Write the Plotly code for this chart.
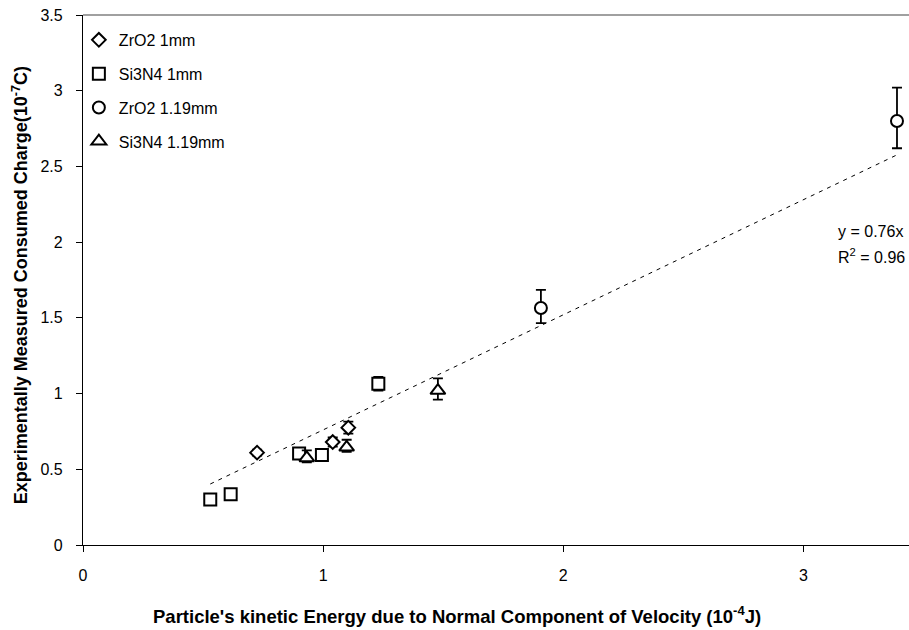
import plotly.graph_objects as go

# ---- data ----
zro2_1_x = [0.725, 1.04, 1.105]
zro2_1_y = [0.61, 0.68, 0.775]
zro2_1_err = [0.02, 0.03, 0.04]

si3n4_1_x = [0.53, 0.615, 0.90, 0.995, 1.23]
si3n4_1_y = [0.30, 0.335, 0.605, 0.595, 1.065]
si3n4_1_err = [0.015, 0.015, 0.03, 0.02, 0.045]

zro2_119_x = [1.907, 3.39]
zro2_119_y = [1.565, 2.80]
zro2_119_err_up = [0.12, 0.22]
zro2_119_err_dn = [0.10, 0.18]

si3n4_119_x = [0.932, 1.098, 1.478]
si3n4_119_y = [0.575, 0.645, 1.02]
si3n4_119_err_up = [0.05, 0.05, 0.08]
si3n4_119_err_dn = [0.03, 0.03, 0.06]

trend_slope = 0.76
r_squared = 0.96

x_ticks = [0, 1, 2, 3]
y_ticks = [0, 0.5, 1, 1.5, 2, 2.5, 3, 3.5]

x_title = "Particle's kinetic Energy due to Normal Component of Velocity (10<sup>-4</sup>J)"
y_title = "Experimentally Measured Consumed Charge(10<sup>-7</sup>C)"

FONT = "Liberation Sans, Arial, sans-serif"

fig = go.Figure()

def add_series(name, xs, ys, symbol, size, up, dn, group):
    fig.add_trace(go.Scatter(
        x=xs, y=ys, mode="markers", name=name, legendgroup=group,
        marker=dict(symbol=symbol, size=size, color="white",
                    line=dict(color="black", width=2)),
        error_y=dict(type="data", array=up, arrayminus=dn, visible=True,
                     color="black", thickness=1.8, width=5),
    ))

# trendline (drawn first, below markers)
all_x = zro2_1_x + si3n4_1_x + zro2_119_x + si3n4_119_x
tx = [min(all_x), max(all_x)]
fig.add_trace(go.Scatter(
    x=tx, y=[trend_slope * v for v in tx], mode="lines", showlegend=False,
    line=dict(color="black", width=1, dash="4px,5px"), hoverinfo="skip"))

add_series("ZrO2 1mm", zro2_1_x, zro2_1_y, "diamond", 10.5, zro2_1_err, zro2_1_err, "a")
add_series("Si3N4 1mm", si3n4_1_x, si3n4_1_y, "square", 12, si3n4_1_err, si3n4_1_err, "b")
add_series("ZrO2 1.19mm", zro2_119_x, zro2_119_y, "circle", 12, zro2_119_err_up, zro2_119_err_dn, "c")
add_series("Si3N4 1.19mm", si3n4_119_x, si3n4_119_y, "triangle-up", 13, si3n4_119_err_up, si3n4_119_err_dn, "d")

fig.add_annotation(x=3.136, y=2.07, xref="x", yref="y", xanchor="left", yanchor="middle",
                   text=f"y = {trend_slope}x", showarrow=False,
                   font=dict(family=FONT, size=16, color="black"))
fig.add_annotation(x=3.136, y=1.91, xref="x", yref="y", xanchor="left", yanchor="middle",
                   text=f"R<sup>2</sup> = {r_squared}", showarrow=False,
                   font=dict(family=FONT, size=16, color="black"))

# axis titles (positioned like the reference: x title centred on the whole chart)
fig.add_annotation(x=0.4528, y=0, xref="paper", yref="paper", xanchor="center", yanchor="middle",
                   yshift=-70, text=x_title, showarrow=False,
                   font=dict(family=FONT, size=18.5, color="black", weight="bold"))
fig.add_annotation(x=-0.0763, y=0.49, xref="paper", yref="paper", xanchor="center", yanchor="middle",
                   textangle=-90, text=y_title, showarrow=False,
                   font=dict(family=FONT, size=18, color="black", weight="bold"))

# top border of plot area (gray)
fig.add_shape(type="line", xref="paper", yref="paper", x0=0, x1=1, y0=1, y1=1,
              line=dict(color="#808080", width=1.5))

fig.update_layout(
    width=909, height=630,
    margin=dict(l=83, r=0, t=15, b=85),
    paper_bgcolor="white", plot_bgcolor="white",
    font=dict(family=FONT, size=16, color="black"),
    showlegend=True,
    legend=dict(x=-0.005, y=0.985, xanchor="left", yanchor="top",
                bgcolor="rgba(0,0,0,0)", font=dict(size=16, family=FONT),
                tracegroupgap=10, itemsizing="trace"),
    xaxis=dict(range=[0, 3.44], tickvals=x_ticks, ticktext=[str(v) for v in x_ticks],
               showgrid=False, zeroline=False, showline=True, linecolor="black",
               linewidth=1.2, ticks="outside", ticklen=6, tickcolor="black",
               ticklabelstandoff=10, tickfont=dict(size=16, family=FONT)),
    yaxis=dict(range=[0, 3.5], tickvals=y_ticks, ticktext=[f"{v:g}" for v in y_ticks],
               showgrid=False, zeroline=False, showline=True, linecolor="black",
               linewidth=1.2, ticks="outside", ticklen=6, tickcolor="black",
               ticklabelstandoff=10, tickfont=dict(size=16, family=FONT)),
)

fig.write_html("out.html")
